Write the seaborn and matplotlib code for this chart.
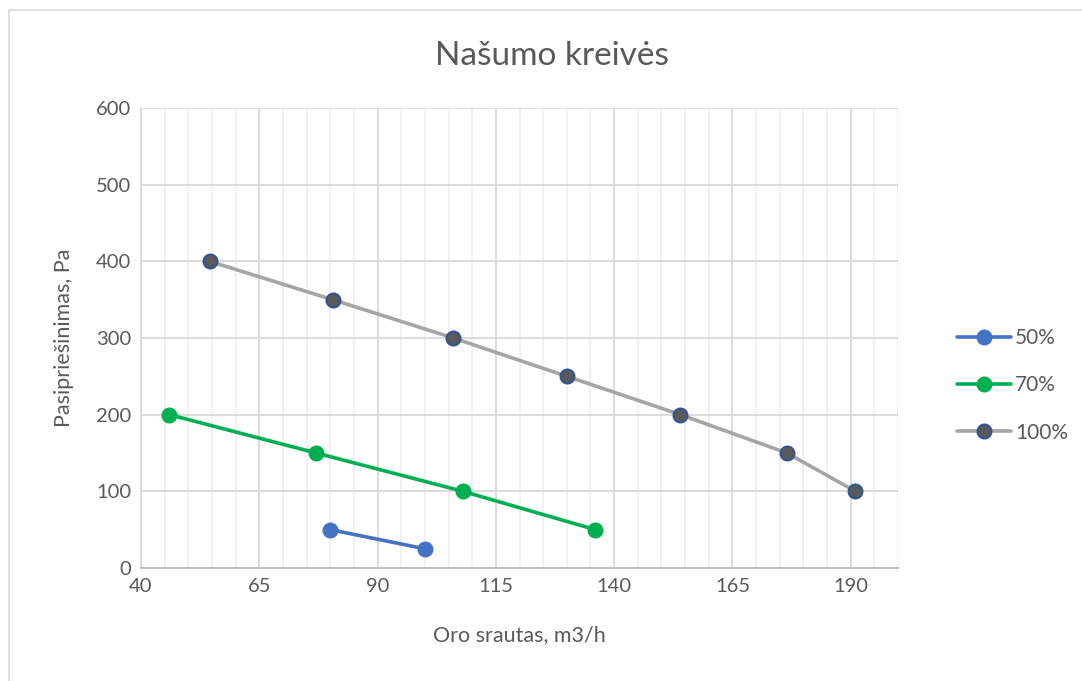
import matplotlib
matplotlib.use("Agg")
import matplotlib.pyplot as plt
import seaborn as sns
import pandas as pd
from matplotlib.patches import Rectangle
from matplotlib.ticker import MultipleLocator

# --- DATA ---
flow_50 = [80.0, 100.0]
pres_50 = [50, 25]

flow_70 = [46.0, 77.0, 108.0, 136.0]
pres_70 = [200, 150, 100, 50]

flow_100 = [54.5, 80.5, 106.0, 130.0, 154.0, 176.5, 191.0]
pres_100 = [400, 350, 300, 250, 200, 150, 100]

SERIES = [
    ("50%", flow_50, pres_50, "#4472C4", "#4472C4", "#4472C4"),
    ("70%", flow_70, pres_70, "#00B050", "#00B050", "#00B050"),
    ("100%", flow_100, pres_100, "#A5A5A5", "#595959", "#2F5597"),
]

sns.set_theme(style="white")
plt.rcParams['font.family'] = ['Lato', 'DejaVu Sans']

fig = plt.figure(figsize=(10.82, 6.81), dpi=100)
ax = fig.add_axes([0.1303, 0.166, 0.6997, 0.6754])

for name, xs, ys, lc, fc, ec in SERIES:
    df = pd.DataFrame({'x': xs, 'y': ys})
    sns.lineplot(data=df, x='x', y='y', ax=ax, sort=False, color=lc,
                 linewidth=2.6, marker='o', markersize=10,
                 markerfacecolor=fc, markeredgecolor=ec, markeredgewidth=1.5,
                 label=name, zorder=3)

ax.set_xlim(40, 200)
ax.set_ylim(0, 600)
ax.xaxis.set_minor_locator(MultipleLocator(5))
ax.yaxis.set_major_locator(MultipleLocator(100))
ax.set_xticks([40, 65, 90, 115, 140, 165, 190])
ax.grid(which='major', color='#D9D9D9', linewidth=1.3)
ax.grid(which='minor', axis='x', color='#EDEDED', linewidth=1.1)
ax.set_axisbelow(True)

for side in ['top', 'right']:
    ax.spines[side].set_visible(False)
ax.spines['left'].set_color('#D9D9D9')
ax.spines['bottom'].set_color('#BFBFBF')
ax.spines['left'].set_linewidth(1.3)
ax.spines['bottom'].set_linewidth(1.5)

ax.tick_params(axis='both', which='both', length=0, labelsize=14.5, colors='#595959', pad=7)
ax.set_xlabel('Oro srautas, m3/h', fontsize=15.5, color='#595959', labelpad=22)
ax.set_ylabel('Pasipriešinimas, Pa', fontsize=15.5, color='#595959', labelpad=16)
fig.text(0.51, 0.918, 'Našumo kreivės', ha='center', va='center', fontsize=24, color='#595959')

ax.get_legend().remove()
handles, labels = ax.get_legend_handles_labels()
fig.legend(handles, labels, loc='center left', bbox_to_anchor=(0.867, 0.434),
           frameon=False, fontsize=15, labelcolor='#595959', handlelength=2.6,
           handletextpad=0.2, labelspacing=1.3)

fig.patches.append(Rectangle((0.008, -0.01), 0.995, 0.995, transform=fig.transFigure,
                             fill=False, edgecolor='#D9D9D9', linewidth=1.2))

fig.savefig('out.png', dpi=100)
